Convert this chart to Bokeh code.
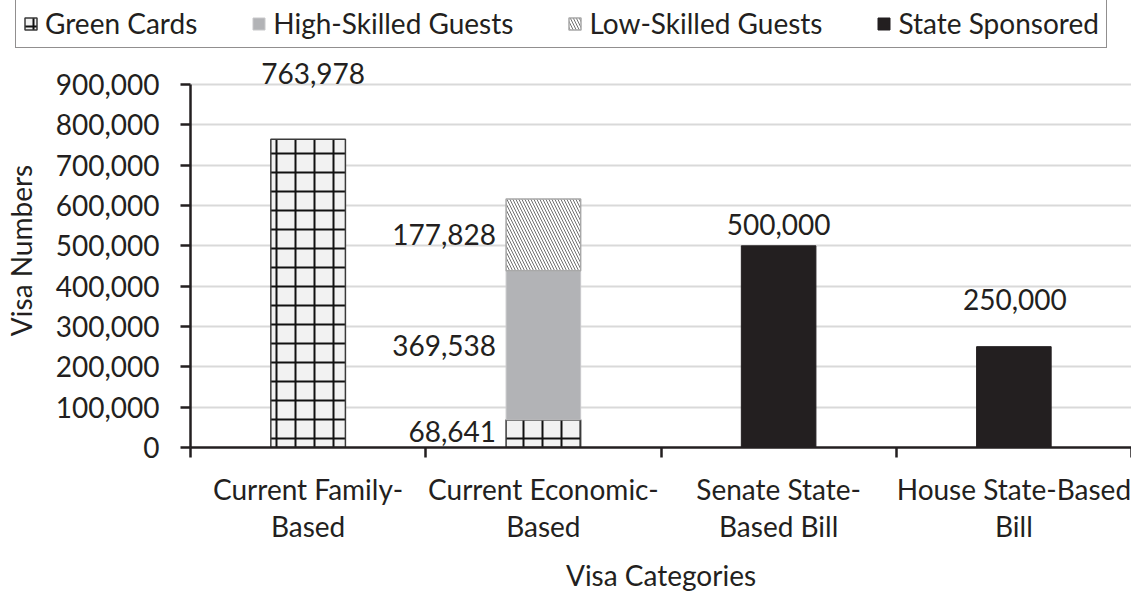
from bokeh.plotting import figure
from bokeh.models import (ColumnDataSource, Range1d, FixedTicker, NumeralTickFormatter,
                          Legend, LegendItem)
from bokeh.core.properties import value
from bokeh.embed import file_html
from bokeh.resources import INLINE

# ---- data ----
categories = ["Current Family-\nBased", "Current Economic-\nBased",
              "Senate State-\nBased Bill", "House State-Based\nBill"]
series = ["Green Cards", "High-Skilled Guests", "Low-Skilled Guests", "State Sponsored"]
green_cards = [763978, 68641, 0, 0]
high_skilled = [0, 369538, 0, 0]
low_skilled = [0, 177828, 0, 0]
state_sponsored = [0, 0, 500000, 250000]
y_ticks = [0, 100000, 200000, 300000, 400000, 500000, 600000, 700000, 800000, 900000]

FONT = "Lato"
TXT = "#231f20"
FS = "28px"

xs = [i + 0.5 for i in range(len(categories))]
W = 0.317

styles = [
    dict(fill_color="#f2f2f2", line_color="#3a3a3a", line_width=1.5,
         hatch_pattern="+", hatch_color="#111111", hatch_scale=19, hatch_weight=2),
    dict(fill_color="#b2b3b6", line_color="#c8c8ca", line_width=1),
    dict(fill_color="white", line_color="#a8a8a8", line_width=1.5,
         hatch_pattern="\\", hatch_color="#707070", hatch_scale=6, hatch_weight=1),
    dict(fill_color="#231f20", line_color="#231f20"),
]

# stacked extents
g_bottom = [0] * 4
g_top = green_cards
h_bottom = g_top
h_top = [a + b for a, b in zip(h_bottom, high_skilled)]
l_bottom = h_top
l_top = [a + b for a, b in zip(l_bottom, low_skilled)]


def src(vals, bottoms, tops):
    idx = [i for i in range(len(vals)) if vals[i] > 0]
    return ColumnDataSource(dict(x=[xs[i] for i in idx], b=[bottoms[i] for i in idx],
                                 t=[tops[i] for i in idx]))


sources = [src(green_cards, g_bottom, g_top), src(high_skilled, h_bottom, h_top),
           src(low_skilled, l_bottom, l_top), src(state_sponsored, [0] * 4, state_sponsored)]

# ---- main chart ----
FH = 394
Y_END = 900000 * FH / 363
p = figure(width=1131, height=547, output_backend="svg", toolbar_location=None,
           x_range=Range1d(0, len(categories)), y_range=Range1d(0, Y_END),
           min_border_left=174, min_border_right=0, min_border_top=5, min_border_bottom=148)
p.outline_line_color = None
p.xgrid.visible = False
p.ygrid.grid_line_color = "#d9d9d9"
p.ygrid.grid_line_width = 2
p.ygrid.ticker = FixedTicker(ticks=y_ticks)

for s, st in zip(sources, styles):
    p.vbar(x="x", bottom="b", top="t", width=W, source=s, **st)

# data labels
top_idx = [0, 2, 3]
top_vals = [green_cards[0], state_sponsored[2], state_sponsored[3]]
top_yoff = [-66, -21, -47]
top_xoff = [5, 0, 1]
lab_top = ColumnDataSource(dict(x=[xs[i] for i in top_idx], y=top_vals,
                                text=[f"{v:,}" for v in top_vals],
                                yo=top_yoff, xo=top_xoff))
p.text(x="x", y="y", text="text", source=lab_top, x_offset="xo", y_offset="yo",
       text_align="center", text_baseline="middle", text_font=value(FONT),
       text_font_size=FS, text_color=TXT)

seg_vals = [low_skilled[1], high_skilled[1], green_cards[1]]
seg_mid = [(l_bottom[1] + l_top[1]) / 2, (h_bottom[1] + h_top[1]) / 2, (g_bottom[1] + g_top[1]) / 2]
seg_yoff = [0, 0, -2]
lab_seg = ColumnDataSource(dict(x=[xs[1] - W / 2] * 3, y=seg_mid,
                                text=[f"{v:,}" for v in seg_vals], yo=seg_yoff))
p.text(x="x", y="y", text="text", source=lab_seg, x_offset=-10, y_offset="yo",
       text_align="right", text_baseline="middle", text_font=value(FONT),
       text_font_size=FS, text_color=TXT)

# axes
xa = p.xaxis[0]
xa.ticker = FixedTicker(ticks=xs, minor_ticks=list(range(len(categories) + 1)))
xa.major_label_overrides = {x: c for x, c in zip(xs, categories)}
xa.major_tick_line_color = None
xa.major_tick_out = 0
xa.minor_tick_out = 10
xa.minor_tick_in = 0
xa.minor_tick_line_color = TXT
xa.minor_tick_line_width = 2.5
xa.axis_line_color = TXT
xa.axis_line_width = 2.5
xa.major_label_standoff = 14
xa.major_label_text_font = FONT
xa.major_label_text_font_size = FS
xa.major_label_text_line_height = 1.1
xa.major_label_text_color = TXT
xa.axis_label = "Visa Categories"
xa.axis_label_text_font = FONT
xa.axis_label_text_font_size = FS
xa.axis_label_text_font_style = "normal"
xa.axis_label_text_color = TXT
xa.axis_label_standoff = 12

ya = p.yaxis[0]
ya.bounds = (0, 900000)
ya.ticker = FixedTicker(ticks=y_ticks)
ya.formatter = NumeralTickFormatter(format="0,0")
ya.major_tick_out = 10
ya.major_tick_in = 0
ya.major_tick_line_color = TXT
ya.major_tick_line_width = 2.5
ya.minor_tick_line_color = None
ya.axis_line_color = TXT
ya.axis_line_width = 2.5
ya.major_label_standoff = 21
ya.major_label_text_font = FONT
ya.major_label_text_font_size = FS
ya.major_label_text_color = TXT
ya.axis_label = "Visa Numbers"
ya.axis_label_text_font = FONT
ya.axis_label_text_font_size = FS
ya.axis_label_text_font_style = "normal"
ya.axis_label_text_color = TXT
ya.axis_label_standoff = 15

# ---- legend strip (same sources, hidden glyphs used only as legend keys) ----
lg = figure(width=1131, height=48, output_backend="svg", toolbar_location=None,
            x_range=Range1d(0, 1), y_range=Range1d(0, 1),
            x_axis_type=None, y_axis_type=None,
            min_border_left=0, min_border_right=0, min_border_top=0, min_border_bottom=0)
lg.outline_line_color = None
lg.grid.visible = False
items = []
for name, s, st in zip(series, sources, styles):
    r = lg.vbar(x="x", bottom="b", top="t", width=W, source=s, visible=False, **st)
    items.append(LegendItem(label=name, renderers=[r]))

legend = Legend(items=items, orientation="horizontal", location=(15, 0),
                click_policy="none",
                glyph_width=15, glyph_height=15, label_standoff=7, spacing=54,
                label_height=34, padding=7, margin=0,
                border_line_color=TXT, border_line_width=1.2,
                label_text_font=FONT, label_text_font_size=FS, label_text_color=TXT,
                background_fill_color="white")
lg.add_layout(legend, "center")

open("out.html", "w").write(file_html([lg, p], INLINE))
